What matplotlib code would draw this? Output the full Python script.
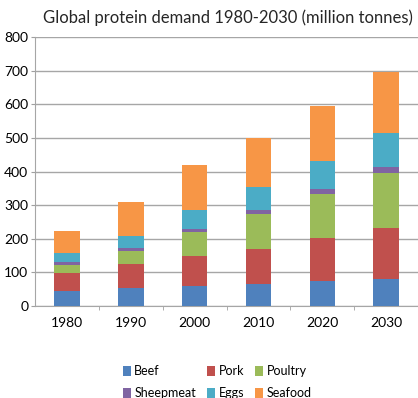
import numpy as np
from matplotlib import pyplot as plt

# Data (million tonnes)
years = ['1980', '1990', '2000', '2010', '2020', '2030']
beef = [46, 55, 60, 66, 74, 81]
pork = [51, 69, 89, 104, 129, 152]
poultry = [25, 40, 72, 103, 130, 162]
sheepmeat = [8, 8, 9, 12, 14, 19]
eggs = [29, 37, 55, 70, 85, 100]
seafood = [63, 100, 133, 146, 164, 182]

series = [('Beef', beef, '#4F81BD'),
          ('Pork', pork, '#C0504D'),
          ('Poultry', poultry, '#9BBB59'),
          ('Sheepmeat', sheepmeat, '#8064A2'),
          ('Eggs', eggs, '#4BACC6'),
          ('Seafood', seafood, '#F79646')]

plt.rcParams['font.family'] = ['Lato', 'DejaVu Sans']

fig = plt.figure(figsize=(4.18, 3.98), dpi=100)
ax = fig.add_axes([0.084, 0.231, 0.916, 0.676])

x = np.arange(len(years))
bottom = np.zeros(len(years))
handles = {}
for name, vals, col in series:
    b = ax.bar(x, vals, 0.4, bottom=bottom, color=col, label=name, zorder=3)
    handles[name] = b
    bottom += np.array(vals)

ax.set_xlim(-0.5, len(years) - 0.5)
ax.set_ylim(0, 800)
ax.set_yticks(range(0, 801, 100))
ax.set_xticks(x)
ax.set_xticklabels(years)
ax.set_xticks(x[:-1] + 0.5, minor=True)
ax.tick_params(axis='x', which='major', length=0, pad=8, labelsize=10)
ax.tick_params(axis='x', which='minor', length=3, color='#A0A0A0')
ax.tick_params(axis='y', length=3, color='#A0A0A0', labelsize=10, pad=2)
ax.grid(axis='y', color='#A6A6A6', linewidth=1, zorder=0)
for s in ['top', 'right']:
    ax.spines[s].set_visible(False)
for s in ['left', 'bottom']:
    ax.spines[s].set_color('#A6A6A6')

fig.text(0.545, 0.956, 'Global protein demand 1980-2030 (million tonnes)',
         ha='center', va='center', fontsize=12, color='#262626')

order = ['Beef', 'Sheepmeat', 'Pork', 'Eggs', 'Poultry', 'Seafood']
fig.legend([handles[n] for n in order], order, ncol=3, loc='upper center',
           bbox_to_anchor=(0.52, 0.11), frameon=False, fontsize=9,
           handlelength=0.6, handleheight=0.9, handletextpad=0.3,
           columnspacing=0.9, labelspacing=0.8)

fig.savefig('out.png', dpi=100)
